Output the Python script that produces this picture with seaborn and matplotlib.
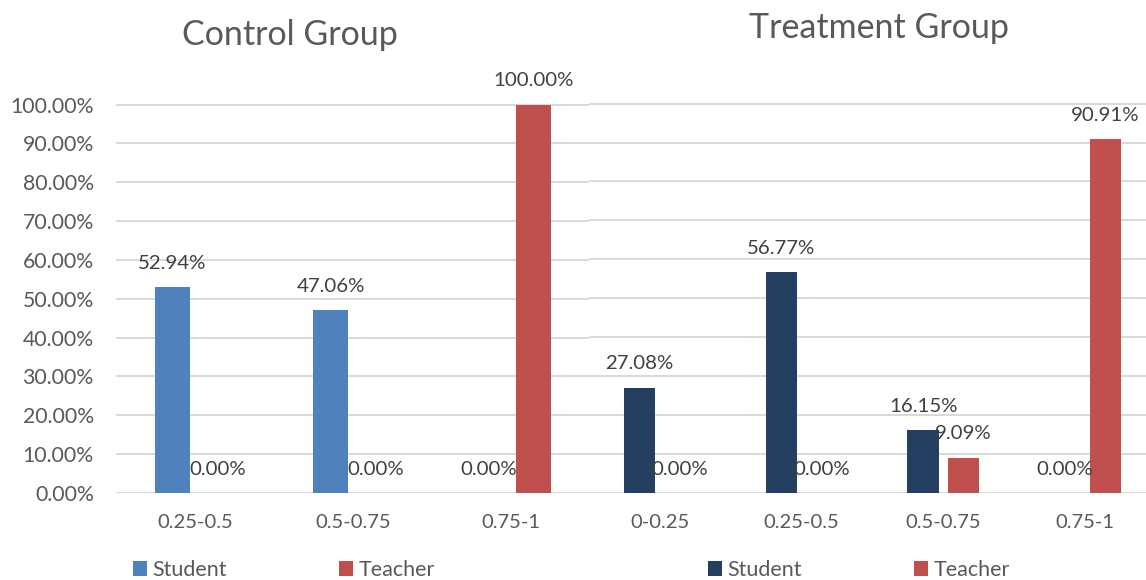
import matplotlib
matplotlib.use("Agg")
import matplotlib.pyplot as plt
import pandas as pd
import seaborn as sns

# Share of each score range, by role (percent)
control_ranges = ["0.25-0.5", "0.5-0.75", "0.75-1"]
control_student = [52.94, 47.06, 0.00]
control_teacher = [0.00, 0.00, 100.00]

treatment_ranges = ["0-0.25", "0.25-0.5", "0.5-0.75", "0.75-1"]
treatment_student = [27.08, 56.77, 16.15, 0.00]
treatment_teacher = [0.00, 0.00, 9.09, 90.91]

roles = ["Student", "Teacher"]
y_ticks = [0, 10, 20, 30, 40, 50, 60, 70, 80, 90, 100]

sns.set_theme(style="white")
plt.rcParams["font.family"] = ["Lato", "DejaVu Sans"]

TEXT = "#595959"
LABEL = "#404040"
GRID = "#D9D9D9"
W, H = 1146, 580


def long_table(ranges, student, teacher):
    return pd.DataFrame({
        "range": ranges * 2,
        "role": [roles[0]] * len(ranges) + [roles[1]] * len(ranges),
        "share": student + teacher,
    })


def fig_rect(x0, x1, y_top, y_bottom):
    return [x0 / W, 1 - y_bottom / H, (x1 - x0) / W, (y_bottom - y_top) / H]


fig = plt.figure(figsize=(W / 100, H / 100), dpi=100)
ax_c = fig.add_axes(fig_rect(116, 590, 103, 493))
ax_t = fig.add_axes(fig_rect(589, 1156, 102, 493))

panels = [
    (ax_c, long_table(control_ranges, control_student, control_teacher),
     {"Student": "#4F81BD", "Teacher": "#C0504D"}, True),
    (ax_t, long_table(treatment_ranges, treatment_student, treatment_teacher),
     {"Student": "#243F60", "Teacher": "#C0504D"}, False),
]

for ax, df, palette, show_y in panels:
    sns.barplot(data=df, x="range", y="share", hue="role", hue_order=roles,
                palette=palette, width=0.57, gap=0.22, saturation=1,
                linewidth=0, ax=ax)
    ax.set_ylim(0, 100.4)
    ax.set_yticks(y_ticks)
    ax.yaxis.grid(True, color=GRID, linewidth=1.4)
    ax.set_axisbelow(True)
    for s in ax.spines.values():
        s.set_visible(False)
    ax.set_xlabel("")
    ax.set_ylabel("")
    ax.tick_params(axis="x", length=0, pad=15, labelsize=14.5, labelcolor=TEXT)
    ax.tick_params(axis="y", length=0, pad=16, labelsize=15.3, labelcolor=TEXT)
    if show_y:
        ax.set_yticklabels([f"{v:.2f}%" for v in y_ticks])
    else:
        ax.set_yticklabels([])
    for cont in ax.containers:
        ax.bar_label(cont, fmt="{:.2f}%", padding=11, fontsize=14.7, color=LABEL)

fig.text(290 / W, 1 - 35 / H, "Control Group", ha="center", va="center",
         fontsize=24.5, color=TEXT)
fig.text(879 / W, 1 - 28 / H, "Treatment Group", ha="center", va="center",
         fontsize=24.5, color=TEXT)

legend_style = dict(ncol=2, frameon=False, title=None, fontsize=15.5,
                    handlelength=0.65, handleheight=0.65, handletextpad=0.25,
                    columnspacing=5.2, borderpad=0, borderaxespad=0,
                    labelcolor=TEXT, bbox_transform=fig.transFigure,
                    loc="center left")
sns.move_legend(ax_c, bbox_to_anchor=(133 / W, 1 - 570 / H), **legend_style)
sns.move_legend(ax_t, bbox_to_anchor=(708 / W, 1 - 570 / H), **legend_style)

fig.savefig("out.png", dpi=100)
